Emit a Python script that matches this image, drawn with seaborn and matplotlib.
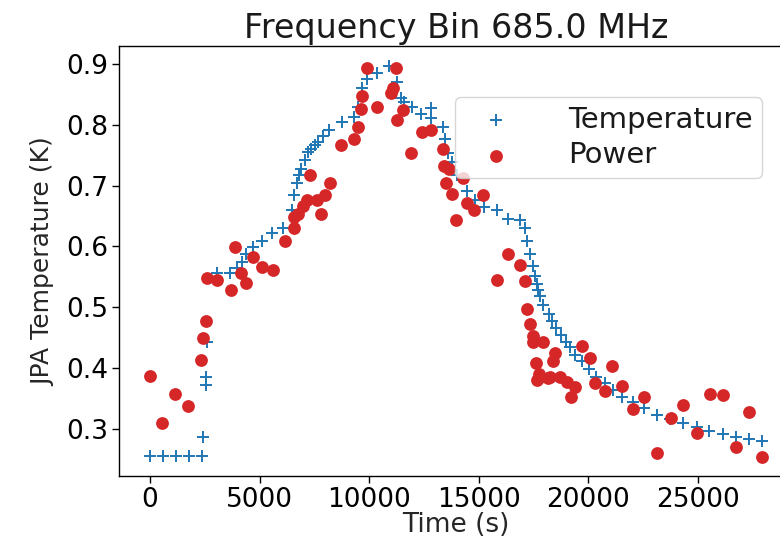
import matplotlib
matplotlib.use("Agg")
import matplotlib.pyplot as plt
import seaborn as sns
import pandas as pd

# Temperature series (time in s, JPA temperature in K)
temp_time = [0, 600, 1200, 1800, 2350, 2420, 2550, 2560, 2600, 3060, 3650, 3980, 4180,
             4380, 4710, 5100, 5580, 6080, 6490, 6580, 6690, 6800, 6890, 7070, 7220,
             7340, 7530, 7680, 7880, 8180, 8750, 9310, 9500, 9690, 9910, 10340, 10920,
             11250, 11440, 11590, 11940, 12350, 12800, 12810, 13350, 13460, 13610,
             13760, 13990, 14460, 14830, 15240, 15820, 16350, 16880, 17110, 17200,
             17340, 17460, 17560, 17670, 17710, 17790, 17940, 18190, 18340, 18530,
             18730, 18980, 19180, 19390, 19710, 20030, 20350, 20760, 21120, 21520,
             22050, 22560, 23130, 23720, 24330, 24940, 25520, 26140, 26730, 27340, 27920]
temp_vals = [0.255, 0.255, 0.255, 0.255, 0.255, 0.286, 0.372, 0.386, 0.443, 0.557, 0.556,
             0.564, 0.575, 0.587, 0.599, 0.609, 0.623, 0.630, 0.660, 0.685, 0.704, 0.717,
             0.728, 0.742, 0.755, 0.760, 0.767, 0.772, 0.782, 0.791, 0.804, 0.813, 0.830,
             0.860, 0.876, 0.886, 0.897, 0.870, 0.845, 0.838, 0.830, 0.818, 0.827, 0.811,
             0.796, 0.776, 0.753, 0.739, 0.717, 0.692, 0.677, 0.665, 0.660, 0.646, 0.644,
             0.630, 0.609, 0.588, 0.568, 0.551, 0.538, 0.528, 0.518, 0.503, 0.489, 0.477,
             0.466, 0.455, 0.443, 0.434, 0.421, 0.411, 0.399, 0.386, 0.375, 0.364, 0.353,
             0.345, 0.335, 0.323, 0.316, 0.310, 0.303, 0.297, 0.291, 0.287, 0.283, 0.280]

# Power-derived series
power_time = [0, 530, 1140, 1750, 2330, 2430, 2540, 2590, 3070, 3700, 3890, 4150, 4380,
              4710, 5100, 5590, 6160, 6590, 6550, 6770, 6980, 7180, 7300, 7620, 7790,
              7980, 8210, 8730, 9310, 9500, 9640, 9690, 9920, 10340, 10990, 11100, 11220,
              11280, 11560, 11890, 12390, 12820, 13350, 13430, 13650, 13520, 13760, 13960,
              14290, 14460, 14780, 15210, 15810, 16330, 16900, 17110, 17190, 17340, 17460,
              17490, 17610, 17660, 17760, 17790, 17950, 18170, 18240, 18370, 18480, 18710,
              19020, 19200, 19390, 19730, 20070, 20320, 20760, 21100, 21520, 22040, 22560,
              23150, 23750, 24340, 24940, 25550, 26130, 26730, 27340, 27920]
power_vals = [0.387, 0.310, 0.358, 0.337, 0.414, 0.450, 0.477, 0.548, 0.545, 0.528, 0.599,
              0.556, 0.540, 0.583, 0.567, 0.561, 0.609, 0.631, 0.648, 0.653, 0.666, 0.676,
              0.717, 0.676, 0.653, 0.685, 0.705, 0.767, 0.777, 0.796, 0.826, 0.848, 0.893,
              0.829, 0.852, 0.860, 0.893, 0.808, 0.825, 0.753, 0.789, 0.792, 0.761, 0.733,
              0.727, 0.704, 0.687, 0.644, 0.713, 0.671, 0.660, 0.684, 0.545, 0.588, 0.569,
              0.543, 0.498, 0.473, 0.453, 0.443, 0.409, 0.380, 0.390, 0.386, 0.443, 0.383,
              0.385, 0.412, 0.424, 0.385, 0.377, 0.353, 0.369, 0.436, 0.417, 0.375, 0.363,
              0.404, 0.371, 0.332, 0.353, 0.260, 0.318, 0.339, 0.294, 0.358, 0.356, 0.270,
              0.327, 0.254]

title = "Frequency Bin 685.0 MHz"
xlabel = "Time (s)"
ylabel = "JPA Temperature (K)"
xticks = [0, 5000, 10000, 15000, 20000, 25000]
yticks = [0.3, 0.4, 0.5, 0.6, 0.7, 0.8, 0.9]

sns.set_style("ticks")
plt.rcParams["font.family"] = ["DejaVu Sans"]
plt.rcParams["axes.edgecolor"] = "black"
plt.rcParams["xtick.color"] = "black"
plt.rcParams["ytick.color"] = "black"
plt.rcParams["text.color"] = "#1a1a1a"

temp_df = pd.DataFrame({"t": temp_time, "v": temp_vals})
power_df = pd.DataFrame({"t": power_time, "v": power_vals})

fig = plt.figure(figsize=(7.8, 5.4), dpi=100)
ax = fig.add_axes([0.1531, 0.1178, 0.863, 0.7963])

sns.scatterplot(data=temp_df, x="t", y="v", marker="+", color="#1f77b4", s=85,
                linewidth=1.4, label="Temperature", ax=ax, zorder=2)
sns.scatterplot(data=power_df, x="t", y="v", marker="o", color="#d62728", s=85,
                linewidth=0, label="Power", ax=ax, zorder=3)

ax.margins(0.05)
ax.set_xticks(xticks)
ax.set_xticklabels([str(v) for v in xticks])
ax.set_yticks(yticks)
ax.set_yticklabels([f"{v:.1f}" for v in yticks])
ax.tick_params(labelsize=19, length=5, width=1, direction="out", pad=3)
for sp in ax.spines.values():
    sp.set_linewidth(1.0)
    sp.set_color("black")

ax.set_title(title, fontsize=24, pad=6)
ax.set_xlabel(xlabel, fontsize=19, labelpad=-1)
ax.set_ylabel(ylabel, fontsize=18, labelpad=8)

leg = ax.legend(loc="upper right", bbox_to_anchor=(0.9545, 0.882), borderaxespad=0,
                fontsize=21, handlelength=2.2, handletextpad=1.4, borderpad=0.3,
                labelspacing=0.25, framealpha=0.8, markerscale=1.0)

fig.savefig("out.png", dpi=100)
